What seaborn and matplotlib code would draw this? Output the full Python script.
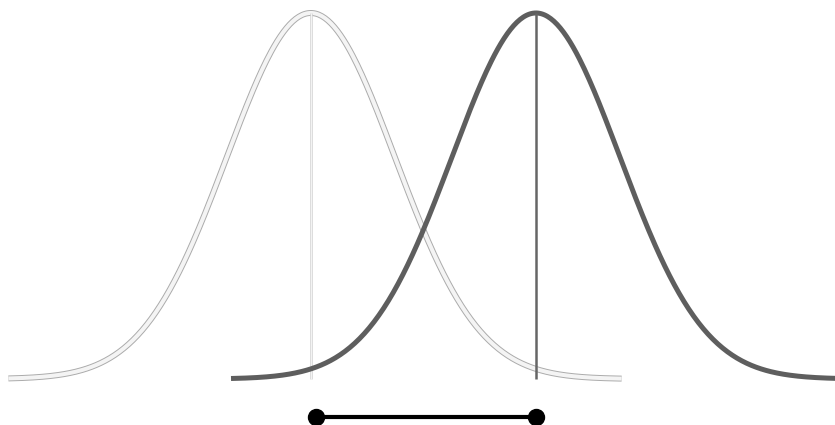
import numpy as np
import pandas as pd
import matplotlib
matplotlib.use("Agg")
import matplotlib.pyplot as plt
import seaborn as sns

# two normal curves, in units of one standard deviation
means = [0.0, 2.68]
sds = [1.0, 1.0]
# where each curve starts / stops being drawn, in sd units from its mean
tail_left = [-3.6, -3.63]
tail_right = [3.7, 3.6]
# mean difference bar under the curves
bar_ends = [0.06, 2.68]
bar_level = [-0.104, -0.104]

sns.set_style("white")

fig = plt.figure(figsize=(8.35, 4.25), dpi=100)
ax = fig.add_axes([0, 0, 1, 1])


def curve_frame(mu, sd, lo, hi):
    x = np.linspace(mu + lo * sd, mu + hi * sd, 400)
    y = np.exp(-0.5 * ((x - mu) / sd) ** 2)
    return pd.DataFrame({"x": x, "y": y})


# left (pale) curve: grey outline with a light core
left = curve_frame(means[0], sds[0], tail_left[0], tail_right[0])
sns.lineplot(data=left, x="x", y="y", ax=ax, color="#ababab", linewidth=4.3,
             sort=False, zorder=1, solid_capstyle="butt")
sns.lineplot(data=left, x="x", y="y", ax=ax, color="#f4f4f4", linewidth=2.9,
             sort=False, zorder=2, solid_capstyle="butt")
ax.plot([means[0], means[0]], [0, 1], color="#d2d2d2", linewidth=1.8,
        zorder=2, solid_capstyle="butt")
ax.plot([means[0], means[0]], [0, 1], color="#fafafa", linewidth=0.6,
        zorder=2, solid_capstyle="butt")

# right (dark) curve
right = curve_frame(means[1], sds[1], tail_left[1], 4.0)
sns.lineplot(data=right, x="x", y="y", ax=ax, color="#5e5e5e", linewidth=3.6,
             sort=False, zorder=3, solid_capstyle="butt")
ax.plot([means[1], means[1]], [0, 1], color="#666666", linewidth=1.8,
        zorder=4, solid_capstyle="butt")

# dumbbell showing the difference of means
ax.plot(bar_ends, bar_level, color="black", linewidth=3.0,
        marker="o", markersize=11.5, zorder=5)

ax.set_xlim(-3.70, 6.24)
ax.set_ylim(-0.1257, 1.0355)
ax.set_axis_off()
if ax.get_legend() is not None:
    ax.get_legend().remove()

fig.savefig("out.png", dpi=100, facecolor="white")
